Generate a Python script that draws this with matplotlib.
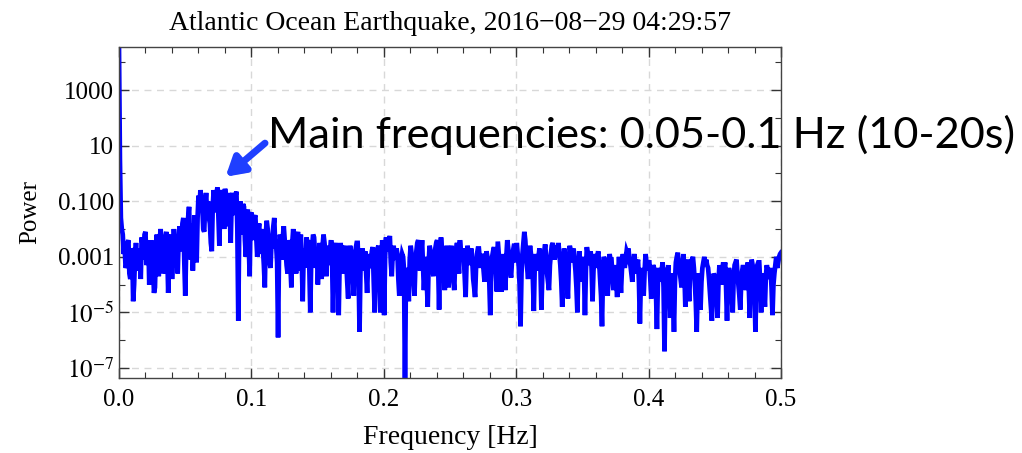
import numpy as np
import matplotlib
matplotlib.use('Agg')
import matplotlib.pyplot as plt
import matplotlib.patheffects as pe
from matplotlib.ticker import FixedLocator, MultipleLocator, NullFormatter

# log10 of the power, 20 values per row (~0.0143 Hz per row)
logPower = [
    4.6, 0.5, -1.6, -2.0, -2.2, -2.9, -2.6, -3.4, -3.3, -2.5, -2.4, -3.6, -3.8, -2.7, -2.8, -4.6, -4.0, -3.0, -2.5, -3.3,
    -3.5, -2.7, -2.9, -3.8, -2.3, -2.6, -3.1, -2.2, -2.1, -3.3, -2.7, -2.4, -4.0, -3.2, -2.4, -2.9, -3.3, -4.3, -4.1, -2.8,
    -2.2, -3.0, -3.7, -2.4, -2.0, -2.5, -2.8, -3.6, -3.4, -2.3, -2.1, -2.9, -4.3, -3.2, -2.5, -2.2, -3.8, -3.0, -2.0, -2.6,
    -2.3, -3.0, -3.6, -2.4, -1.9, -2.8, -2.6, -1.8, -1.6, -3.2, -4.4, -2.7, -2.2, -1.6, -1.2, -2.3, -3.1, -1.8, -3.5, -2.4,
    -1.5, -2.6, -3.2, -1.6, -0.8, -1.3, -0.6, -0.9, -1.2, -2.0, -2.1, -1.1, -0.7, -1.4, -1.0, -1.6, -1.8, -2.5, -2.8, -1.2,
    -0.6, -1.0, -1.4, -0.7, -0.5, -1.6, -2.6, -1.0, -0.8, -0.6, -1.1, -2.0, -0.55, -0.9, -1.9, -1.2, -0.7, -1.5, -2.5, -1.0,
    -0.7, -1.1, -1.5, -0.8, -0.65, -2.0, -5.3, -1.8, -1.0, -1.4, -2.2, -1.1, -1.2, -2.4, -3.0, -1.6, -1.3, -2.5, -3.7, -1.5,
    -1.4, -2.0, -2.4, -1.6, -1.5, -2.3, -3.0, -2.1, -1.8, -2.9, -2.0, -2.4, -2.7, -3.3, -4.1, -2.2, -1.7, -2.0, -2.6, -3.2,
    -3.4, -2.5, -2.3, -1.9, -1.6, -2.7, -2.6, -3.2, -5.9, -2.8, -2.2, -2.5, -3.1, -2.3, -1.9, -2.4, -2.8, -3.3, -3.6, -2.4,
    -2.6, -3.3, -4.1, -2.5, -2.0, -2.6, -2.9, -3.6, -2.3, -2.1, -3.5, -2.6, -2.2, -3.1, -4.6, -2.9, -2.7, -3.4, -2.3, -2.5,
    -2.4, -3.4, -5.0, -3.1, -2.6, -2.2, -2.3, -2.9, -3.4, -2.8, -4.0, -3.0, -2.5, -3.2, -3.8, -2.6, -2.2, -2.5, -2.9, -3.7,
    -2.6, -3.0, -3.3, -2.7, -2.4, -3.1, -5.0, -3.3, -2.7, -2.5, -3.0, -3.6, -5.1, -3.2, -2.5, -2.9, -3.6, -3.1, -2.8, -2.6,
    -3.2, -3.9, -4.5, -2.9, -2.6, -2.8, -3.0, -3.7, -4.4, -3.0, -2.7, -2.5, -2.5, -3.5, -5.7, -3.4, -3.1, -2.7, -2.9, -3.5,
    -2.8, -3.6, -4.3, -3.2, -2.9, -3.4, -3.3, -2.8, -2.65, -3.9, -5.0, -3.4, -3.0, -2.7, -2.6, -3.6, -5.0, -3.3, -2.4, -2.7,
    -5.1, -3.0, -2.3, -2.7, -2.8, -2.4, -2.25, -3.2, -3.7, -2.9, -2.6, -3.0, -3.1, -2.7, -2.9, -3.8, -4.4, -3.6, -3.2, -2.9,
    -3.0, -3.5, -7.8, -3.6, -3.4, -3.9, -4.6, -3.1, -2.6, -2.9, -3.2, -3.8, -4.4, -3.3, -2.8, -2.5, -2.4, -3.0, -3.5, -2.9,
    -2.4, -3.3, -4.2, -3.5, -3.0, -3.9, -4.8, -3.2, -2.6, -2.8, -3.1, -3.4, -3.7, -3.0, -2.7, -2.5, -2.4, -3.3, -4.9, -3.1,
    -2.3, -2.7, -3.0, -3.6, -4.2, -3.1, -2.6, -3.0, -4.1, -3.4, -2.9, -2.6, -3.3, -3.8, -4.2, -3.1, -2.7, -2.5, -3.0, -3.6,
    -2.4, -2.8, -3.1, -2.7, -2.9, -3.7, -4.45, -3.2, -2.6, -2.9, -3.3, -3.0, -2.7, -3.1, -3.8, -4.1, -4.45, -3.4, -2.9, -2.7,
    -2.7, -3.1, -3.4, -2.9, -3.0, -3.5, -3.9, -3.2, -2.8, -3.0, -3.5, -3.9, -5.1, -3.6, -3.0, -2.8, -2.65, -3.1, -3.6, -4.25,
    -2.45, -2.9, -3.3, -3.8, -4.25, -3.4, -2.9, -3.3, -4.2, -3.0, -2.4, -2.7, -3.1, -3.5, -3.75, -3.1, -2.8, -2.6, -2.6, -3.2,
    -2.5, -2.9, -3.3, -4.0, -5.5, -3.6, -2.9, -2.5, -2.1, -2.4, -3.0, -3.4, -3.8, -3.0, -2.6, -2.9, -3.4, -3.8, -4.95, -3.3,
    -2.9, -3.2, -3.5, -3.0, -2.7, -3.4, -4.9, -3.6, -3.1, -2.8, -2.55, -3.0, -3.6, -3.9, -4.2, -3.3, -2.9, -2.6, -2.5, -2.9,
    -3.1, -2.8, -2.6, -2.9, -2.5, -2.9, -3.3, -3.9, -4.8, -3.4, -2.7, -2.9, -3.0, -3.7, -4.5, -3.2, -2.6, -2.9, -3.2, -2.8,
    -2.7, -3.1, -3.5, -4.1, -5.0, -3.4, -2.8, -3.2, -3.9, -3.3, -3.0, -3.6, -5.1, -3.5, -2.65, -2.9, -3.3, -3.0, -2.8, -3.4,
    -4.6, -3.5, -2.9, -3.1, -3.4, -3.0, -2.8, -3.2, -3.8, -4.4, -5.5, -3.7, -3.0, -3.1, -3.2, -3.8, -4.4, -3.5, -2.9, -3.1,
    -3.1, -3.7, -4.2, -3.5, -3.3, -3.9, -4.45, -3.6, -3.0, -3.6, -4.3, -3.5, -2.9, -3.1, -3.4, -3.1, -2.8, -2.9, -2.7, -3.2,
    -3.3, -3.6, -3.9, -3.2, -2.9, -3.2, -3.6, -3.3, -3.1, -3.9, -5.4, -3.9, -3.4, -3.9, -4.4, -3.5, -2.9, -3.2, -3.5, -3.2,
    -3.2, -3.8, -4.5, -3.7, -3.3, -3.4, -3.6, -4.3, -5.6, -3.9, -3.4, -3.6, -3.9, -3.5, -3.2, -4.1, -6.4, -3.9, -3.4, -3.6,
    -3.3, -4.2, -5.2, -4.0, -3.6, -4.4, -5.7, -3.9, -3.2, -3.0, -2.85, -3.2, -3.5, -3.8, -4.1, -3.4, -2.9, -3.6, -4.8, -3.7,
    -3.1, -3.8, -4.6, -3.6, -3.2, -3.1, -3.0, -3.4, -3.9, -4.6, -5.7, -4.1, -3.6, -4.1, -4.9, -3.9, -3.4, -3.2, -3.0, -3.3,
    -3.1, -3.3, -3.4, -3.8, -4.3, -4.8, -5.3, -4.0, -3.6, -3.7, -3.9, -4.5, -5.2, -3.9, -3.3, -3.6, -4.0, -3.5, -3.2, -3.4,
    -3.2, -4.1, -5.3, -3.9, -3.4, -3.6, -3.8, -4.4, -5.0, -3.8, -3.3, -3.2, -3.1, -3.6, -4.0, -4.4, -4.9, -3.9, -3.5, -3.3,
    -3.5, -3.8, -4.2, -3.6, -3.2, -4.1, -5.2, -3.7, -3.1, -3.3, -3.4, -4.2, -5.7, -3.9, -3.3, -3.2, -3.2, -3.9, -5.0, -3.8,
    -3.6, -4.2, -4.8, -3.7, -3.3, -3.5, -3.8, -3.6, -3.4, -4.1, -5.1, -4.0, -3.6, -3.3, -3.0, -3.4, -3.2, -3.0, -2.9, -2.85,
]

# frequency axis runs evenly from 0 to the Nyquist frequency
freq = np.linspace(0, 0.5, len(logPower))
power = 10.0 ** np.array(logPower)

yTicks = [1e3, 1e1, 1e-1, 1e-3, 1e-5, 1e-7]
yTickLabels = ['1000', '10', '0.100', '0.001', r'$10^{-5}$', r'$10^{-7}$']
yMinor = [1e4, 1e2, 1e0, 1e-2, 1e-4, 1e-6]
xTicks = [0.0, 0.1, 0.2, 0.3, 0.4, 0.5]
xTickLabels = ['0.0', '0.1', '0.2', '0.3', '0.4', '0.5']

plt.rcParams['font.family'] = ['Liberation Serif', 'DejaVu Serif']
plt.rcParams['mathtext.fontset'] = 'stix'

fig = plt.figure(figsize=(10.22, 4.53), dpi=100)
ax = fig.add_axes([0.1164, 0.1656, 0.6478, 0.7307])

ax.plot(freq, power, color='#0000ff', lw=3.4, solid_joinstyle='miter')

ax.set_yscale('log')
ax.set_xlim(0, 0.5)
ax.set_ylim(10 ** -7.36, 10 ** 4.55)

ax.yaxis.set_major_locator(FixedLocator(yTicks))
ax.yaxis.set_minor_locator(FixedLocator(yMinor))
ax.yaxis.set_minor_formatter(NullFormatter())
ax.set_yticklabels(yTickLabels)
ax.xaxis.set_major_locator(FixedLocator(xTicks))
ax.xaxis.set_minor_locator(MultipleLocator(0.02))
ax.set_xticklabels(xTickLabels)

ax.tick_params(which='both', direction='in', top=True, right=True, labelsize=18, colors='#333333', labelcolor='black')
ax.tick_params(which='major', length=7, width=1)
ax.tick_params(which='minor', length=4, width=0.8)
ax.tick_params(axis='x', pad=8)
for s in ax.spines.values():
    s.set_color('#444444')
    s.set_linewidth(1)

ax.grid(True, which='major', ls=(0, (5, 4)), color='#d8d8d8', lw=1)
ax.set_axisbelow(True)

ax.set_title('Atlantic Ocean Earthquake, 2016\u221208\u221229 04:29:57', fontsize=20, pad=12)
ax.set_xlabel('Frequency [Hz]', fontsize=20, labelpad=10)
ax.set_ylabel('Power', fontsize=18, labelpad=12)

# annotation text, reaching past the plot frame
ax.text(0.1125, 10 ** 0.92, 'Main frequencies: 0.05-0.1 Hz (10-20s)', fontsize=31.2, family='Lato',
        color='black', va='baseline', ha='left', clip_on=False)
# arrow pointing at the hump
ax.annotate('', xy=(0.0805, 10 ** -0.12), xytext=(0.1103, 10 ** 1.09), annotation_clip=False,
            arrowprops=dict(arrowstyle='-|>,head_length=1.1,head_width=0.65', color='#1f3fff', lw=5,
                            shrinkA=0, shrinkB=0,
                            path_effects=[pe.SimplePatchShadow(offset=(2, -2), alpha=0.3), pe.Normal()]))

plt.savefig('out.png', dpi=100)
